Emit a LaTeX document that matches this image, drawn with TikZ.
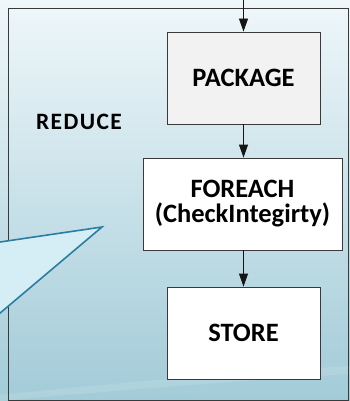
\documentclass[tikz,border=0pt]{standalone}
\usepackage{fontspec}
\setmainfont{Carlito}
\usetikzlibrary{arrows.meta}
\definecolor{bgtop}{HTML}{EFF7FA}
\definecolor{bgmid}{HTML}{DCEDF3}
\definecolor{bgbot}{HTML}{A2CBD8}
\definecolor{framegray}{HTML}{3A3A3A}
\definecolor{arrowblack}{HTML}{151515}
\definecolor{calloutfill}{HTML}{D5EDF5}
\definecolor{calloutline}{HTML}{2B7DA2}
\definecolor{pkgfill}{HTML}{F2F2F2}
\tikzset{
  stagebox/.style={draw=framegray, line width=0.9pt, minimum width=153pt,
    minimum height=92pt, inner sep=0pt, align=center,
    font=\fontsize{26.5}{25}\selectfont\bfseries},
  flow/.style={draw=arrowblack, line width=0.9pt,
    -{Triangle[width=9pt,length=13pt]}},
  frameline/.style={draw=framegray, line width=0.9pt},
}
\begin{document}
\begin{tikzpicture}[x=1pt,y=-1pt]
  \useasboundingbox (0,0) rectangle (350,401);
  % background
  \shade[top color=bgtop, middle color=bgmid, bottom color=bgbot]
    (0,0) rectangle (350,401);
  % faint light sweep near the bottom
  \fill[white, opacity=0.12] (0,395) .. controls (120,382) and (250,372) .. (350,366)
    -- (350,374) .. controls (250,380) and (120,390) .. (0,401) -- cycle;
  % outer frame of the reduce stage
  \draw[frameline] (8,268) -- (8,8) -- (348,8) -- (348,400) -- (8,400) -- (8,307);
  % callout pointer
  \draw[fill=calloutfill, draw=calloutline, line width=1.6pt, line join=miter]
    (-2,242.3) -- (102,227) -- (-2,314.8);
  % label
  \node[font=\fontsize{23.5}{25}\selectfont\bfseries\addfontfeatures{LetterSpace=6}]
    (reduce) at (79,122) {REDUCE};
  % stages
  \coordinate (entry) at (243.5,0);
  \node[stagebox, fill=pkgfill] (package) at (243.5,78) {PACKAGE};
  \node[stagebox, fill=white, minimum width=199pt] (foreach) at (242.5,204)
    {FOREACH\\(CheckIntegirty)};
  \node[stagebox, fill=white] (store) at (243.5,333) {STORE};
  % flow arrows
  \draw[flow] (entry) -- (package);
  \draw[flow] (package.south -| entry) -- (foreach.north -| entry);
  \draw[flow] (foreach.south -| entry) -- (store.north -| entry);
\end{tikzpicture}
\end{document}
